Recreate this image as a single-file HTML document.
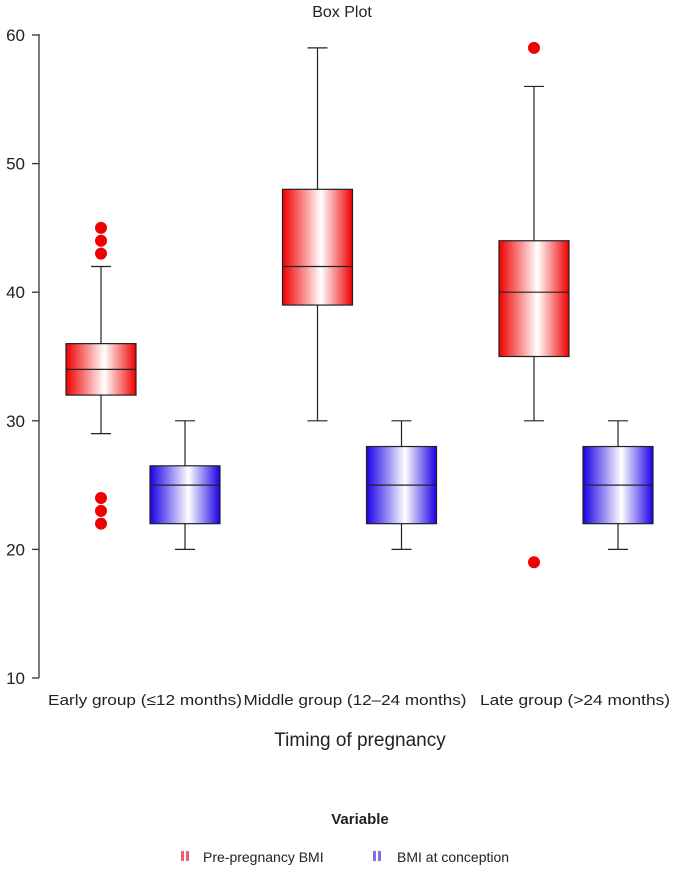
<!DOCTYPE html>
<html><head><meta charset="utf-8"><style>
body{margin:0;background:#fff;font-family:"Liberation Sans",Arial,sans-serif}
</style></head><body>
<svg width="685" height="869" xmlns="http://www.w3.org/2000/svg" id="chart">
<defs>
<linearGradient id="gr" x1="0" x2="1" y1="0" y2="0"><stop offset="0" stop-color="#f00000"/><stop offset="0.55" stop-color="#fff"/><stop offset="1" stop-color="#f00000"/></linearGradient>
<linearGradient id="gb" x1="0" x2="1" y1="0" y2="0"><stop offset="0" stop-color="#1a00e6"/><stop offset="0.55" stop-color="#fff"/><stop offset="1" stop-color="#1a00e6"/></linearGradient>
</defs>
<text x="342" y="17" text-anchor="middle" font-size="16" fill="#222">Box Plot</text>
<line x1="39" y1="34" x2="39" y2="678" stroke="#333" stroke-width="1.3"/>
<g id="ticks"></g>
<g id="boxes"></g>
<text x="360" y="746" text-anchor="middle" font-size="19" fill="#222">Timing of pregnancy</text>
<text x="360" y="824" text-anchor="middle" font-size="15" font-weight="bold" fill="#222">Variable</text>
<g>
<rect x="181" y="851" width="3" height="10" fill="#f06070"/><rect x="186" y="851" width="3" height="10" fill="#f06070"/>
<text x="203" y="862" font-size="14" fill="#222">Pre-pregnancy BMI</text></g>
<g>
<rect x="373" y="851" width="3" height="10" fill="#8070f0"/><rect x="378" y="851" width="3" height="10" fill="#8070f0"/>
<text x="397" y="862" font-size="14" fill="#222">BMI at conception</text></g>
</svg>
<script>
const categories=["Early group (≤12 months)","Middle group (12–24  months)","Late group (>24 months)"];
const yTicks=[10,20,30,40,50,60];
// [whiskerLow, q1, median, q3, whiskerHigh]
const preBMI=[[29,32,34,36,42],[30,39,42,48,59],[30,35,40,44,56]];
const conceptionBMI=[[20,22,25,26.5,30],[20,22,25,28,30],[20,22,25,28,30]];
const preOutliers=[[22,23,24,43,44,45],[],[19,59]];
const conceptionOutliers=[[],[],[]];
const NS="http://www.w3.org/2000/svg";
const y=v=>678-(v-10)*12.86;
const xc=i=>143+i*216.5;
const labelX=[145,355,575], labelW=[194,223,190];
function mk(t,a,p){const e=document.createElementNS(NS,t);for(const k in a)e.setAttribute(k,a[k]);p.appendChild(e);return e;}
const tg=document.getElementById('ticks');
yTicks.forEach(v=>{
 const l=mk('line',{x1:32,x2:39,y1:y(v),y2:y(v),stroke:'#333','stroke-width':1.3},tg);
 
 
 const t=mk('text',{x:25,y:y(v)+6,'text-anchor':'end','font-size':17,fill:'#222'},tg);t.textContent=v;
 
 
});
const bg=document.getElementById('boxes');
function box(cx,d,fill,outs,name){
 const g=mk('g',{},bg);
 
 
 const w=70,s={stroke:'#222','stroke-width':1.2};
 mk('line',{x1:cx,x2:cx,y1:y(d[0]),y2:y(d[1]),...s},g);
 mk('line',{x1:cx,x2:cx,y1:y(d[3]),y2:y(d[4]),...s},g);
 mk('line',{x1:cx-10,x2:cx+10,y1:y(d[0]),y2:y(d[0]),...s},g);
 mk('line',{x1:cx-10,x2:cx+10,y1:y(d[4]),y2:y(d[4]),...s},g);
 mk('rect',{x:cx-w/2,y:y(d[3]),width:w,height:y(d[1])-y(d[3]),fill:fill,...s},g);
 mk('line',{x1:cx-w/2,x2:cx+w/2,y1:y(d[2]),y2:y(d[2]),...s},g);
 outs.forEach(o=>{const c=mk('circle',{cx:cx,cy:y(o),r:6,fill:'#f00000'},g);
  
  });
}
categories.forEach((c,i)=>{
 box(xc(i)-42,preBMI[i],'url(#gr)',preOutliers[i],'box-pre-pregnancy-'+i);
 box(xc(i)+42,conceptionBMI[i],'url(#gb)',conceptionOutliers[i],'box-conception-'+i);
 const t=mk('text',{x:labelX[i]-labelW[i]/2,y:705,'font-size':15,fill:'#222',textLength:labelW[i],lengthAdjust:'spacingAndGlyphs'},bg);t.textContent=c;
 
 
});
</script>
</body></html>
